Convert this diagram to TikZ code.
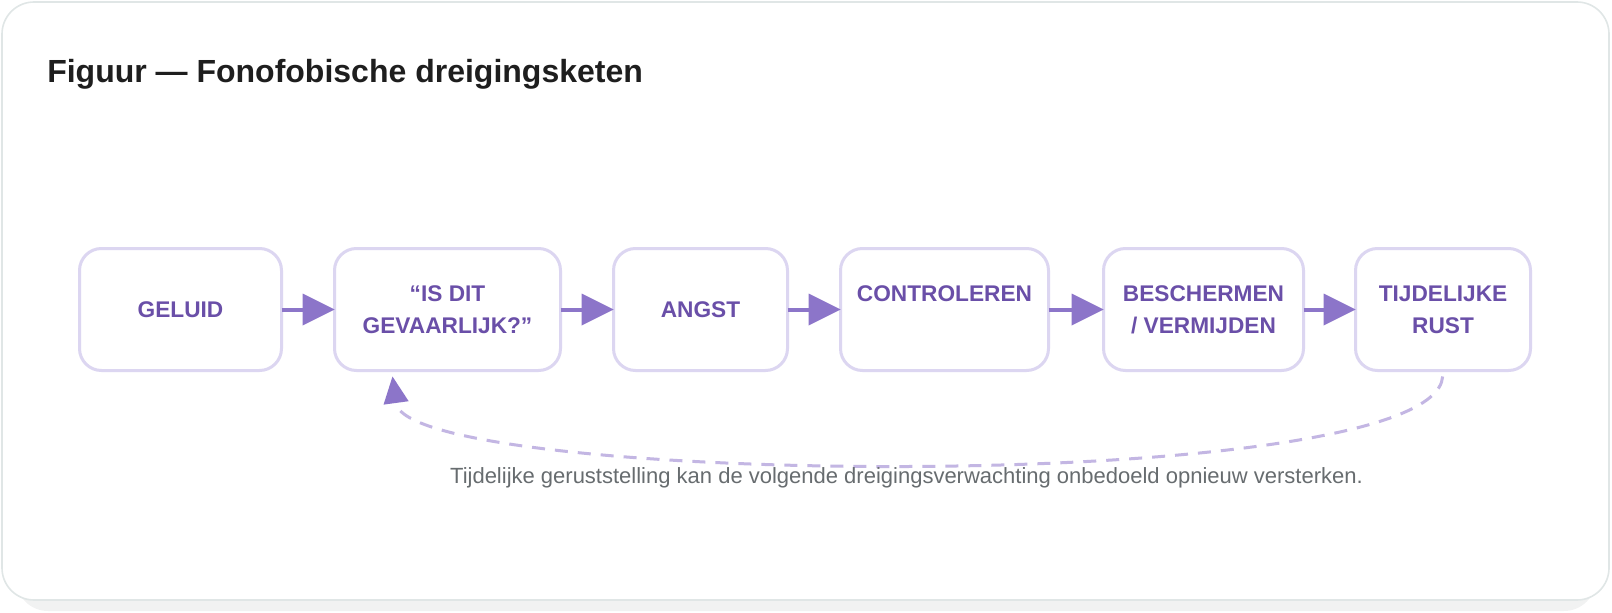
\documentclass[tikz,border=0pt]{standalone}
\usepackage{fontspec}
\setmainfont{Liberation Sans}
\usepackage{tikz}
\usetikzlibrary{arrows.meta,calc}
\definecolor{paars}{HTML}{6A4FA8}
\definecolor{pijlpaars}{HTML}{8C75C9}
\definecolor{rand}{HTML}{DCD6F1}
\definecolor{streep}{HTML}{C3B6E3}
\definecolor{kaartrand}{HTML}{E0E6E6}
\definecolor{schaduw}{HTML}{F1F2F2}
\definecolor{grijs}{HTML}{676C6F}
\definecolor{titel}{HTML}{1E1E1E}

\begin{document}
\begin{tikzpicture}[x=0.75pt,y=-0.75pt,
  stap/.style={draw=rand,line width=2.25pt,fill=white,rounded corners=16.5pt,minimum height=91.5pt,inner sep=0pt,outer sep=0pt,align=center,text=paars,font=\fontsize{17}{24}\selectfont\bfseries},
  pijl/.style={draw=pijlpaars,line width=3pt,-{Triangle[length=24pt,width=24pt,line width=0pt,color=pijlpaars]}},
  terug/.style={draw=streep,line width=2.25pt,dash pattern=on 9.75pt off 7.5pt,shorten <=4.5pt,-{Triangle[length=20pt,width=19pt,line width=0pt,color=pijlpaars]}}]

\useasboundingbox (0,0) rectangle (1612,613);
\fill[schaduw,rounded corners=24pt] (16,24) rectangle (1596,611);
\draw[kaartrand,fill=white,line width=1.2pt,rounded corners=24pt] (2,2) rectangle (1609,600);

\node[anchor=base west,inner sep=0pt,text=titel,font=\fontsize{24}{28}\selectfont\bfseries] (kop) at (47,83) {Figuur — Fonofobische dreigingsketen};

\node[stap,minimum width=151.5pt] (k1) at (180.5,309.5) {GELUID};
\node[stap,minimum width=169.5pt] (k2) at (447.5,309.5) {“IS DIT\\GEVAARLIJK?”};
\node[stap,minimum width=130.5pt] (k3) at (700.5,309.5) {ANGST};
\node[stap,minimum width=156pt] (k4) at (944.5,309.5) {CONTROLEREN\\\mbox{}};
\node[stap,minimum width=150pt] (k5) at (1203.5,309.5) {BESCHERMEN\\/ VERMIJDEN};
\node[stap,minimum width=131.25pt] (k6) at (1443,309.5) {TIJDELIJKE\\RUST};

\path[pijl] (k1) edge (k2) (k2) edge (k3) (k3) edge (k4) (k4) edge (k5) (k5) edge (k6);

\coordinate (terugpunt) at ($(k2.south west)+(58,6)$);
\draw[terug] (k6.south) .. controls ($(k6.south)+(-8,127)$) and ($(terugpunt)+(15,110)$) .. (terugpunt);

\node[anchor=base,inner sep=0pt,text=grijs,font=\fontsize{16.5}{19}\selectfont] (uitleg) at (906.5,483) {Tijdelijke geruststelling kan de volgende dreigingsverwachting onbedoeld opnieuw versterken.};

\end{tikzpicture}
\end{document}
